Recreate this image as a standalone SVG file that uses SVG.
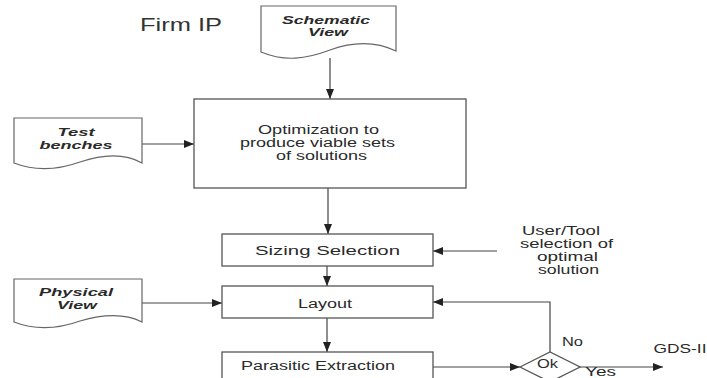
<svg xmlns="http://www.w3.org/2000/svg" width="707" height="378" viewBox="0 0 707 378">
<style>
.box{fill:#fff;stroke:#555;stroke-width:1.3}
.doc{fill:#fff;stroke:#666;stroke-width:1.2}
.t{font-family:"Liberation Sans",Arial,sans-serif;font-size:12px;fill:#2a2a2a;text-anchor:middle}
.bi{font-family:"Liberation Sans",Arial,sans-serif;font-size:11.5px;font-weight:bold;font-style:italic;fill:#2a2a2a;text-anchor:middle}
.c{fill:none;stroke:#444;stroke-width:1.2}
</style>
<defs>
<marker id="ah" viewBox="0 0 10 8" refX="10" refY="4" markerWidth="10" markerHeight="8" markerUnits="userSpaceOnUse" orient="auto">
<path d="M0,0 L10,4 L0,8 Z" fill="#222"/>
</marker>
</defs>
<rect width="707" height="378" fill="#fff"/>
<text x="140" y="31" font-family="'Liberation Sans',Arial,sans-serif" font-size="18" fill="#333" textLength="82" lengthAdjust="spacingAndGlyphs">Firm IP</text>

<g id="connectors">
<line class="c" x1="330" y1="58" x2="330" y2="99" marker-end="url(#ah)"/>
<line class="c" x1="142" y1="144" x2="194" y2="144" marker-end="url(#ah)"/>
<line class="c" x1="328" y1="188" x2="328" y2="234" marker-end="url(#ah)"/>
<line class="c" x1="497" y1="251" x2="433" y2="251" marker-end="url(#ah)"/>
<line class="c" x1="327" y1="266" x2="327" y2="286" marker-end="url(#ah)"/>
<line class="c" x1="142" y1="303" x2="222" y2="303" marker-end="url(#ah)"/>
<line class="c" x1="327" y1="318" x2="327" y2="352" marker-end="url(#ah)"/>
<line class="c" x1="433" y1="367" x2="520" y2="367" marker-end="url(#ah)"/>
<polyline class="c" points="550,352 550,302 433,302" marker-end="url(#ah)"/>
<line class="c" x1="580" y1="367" x2="663" y2="367" marker-end="url(#ah)"/>
</g>

<g id="schematic">
<path class="doc" d="M261,6 H396 V51 C375,41 352,42 330,50 C306,59 285,62 261,52 Z"/>
<text class="bi" x="326" y="24" textLength="88" lengthAdjust="spacingAndGlyphs">Schematic</text>
<text class="bi" x="328" y="36" textLength="40" lengthAdjust="spacingAndGlyphs">View</text>
</g>

<g id="testbenches">
<path class="doc" d="M14,118 H142 V163 C124,153 104,154 80,162 C55,171 32,170 14,163 Z"/>
<text class="bi" x="76" y="136" textLength="37" lengthAdjust="spacingAndGlyphs">Test</text>
<text class="bi" x="76" y="149" textLength="73" lengthAdjust="spacingAndGlyphs">benches</text>
</g>

<g id="physical">
<path class="doc" d="M14,279 H142 V322 C124,313 104,314 80,321 C55,330 32,329 14,322 Z"/>
<text class="bi" x="76" y="296" textLength="74" lengthAdjust="spacingAndGlyphs">Physical</text>
<text class="bi" x="77" y="309" textLength="40" lengthAdjust="spacingAndGlyphs">View</text>
</g>

<g id="optimization">
<rect class="box" x="194" y="99" width="272" height="89"/>
<text class="t" x="318.5" y="134" textLength="121" lengthAdjust="spacingAndGlyphs">Optimization to</text>
<text class="t" x="317.5" y="147" textLength="155" lengthAdjust="spacingAndGlyphs">produce viable sets</text>
<text class="t" x="321.5" y="160" textLength="91" lengthAdjust="spacingAndGlyphs">of solutions</text>
</g>

<g id="sizing">
<rect class="box" x="222" y="234" width="211" height="32"/>
<text class="t" x="327.5" y="255" textLength="145" lengthAdjust="spacingAndGlyphs">Sizing Selection</text>
</g>

<g id="usertool">
<text class="t" x="561" y="235" textLength="78" lengthAdjust="spacingAndGlyphs">User/Tool</text>
<text class="t" x="566.5" y="248" textLength="93" lengthAdjust="spacingAndGlyphs">selection of</text>
<text class="t" x="567.5" y="261" textLength="61" lengthAdjust="spacingAndGlyphs">optimal</text>
<text class="t" x="568.5" y="274" textLength="61" lengthAdjust="spacingAndGlyphs">solution</text>
</g>

<g id="layout">
<rect class="box" x="222" y="286" width="211" height="32"/>
<text class="t" x="325" y="308" textLength="54" lengthAdjust="spacingAndGlyphs">Layout</text>
</g>

<g id="parasitic">
<rect class="box" x="222" y="352" width="211" height="40"/>
<text class="t" x="318" y="370" textLength="154" lengthAdjust="spacingAndGlyphs">Parasitic Extraction</text>
</g>

<g id="ok">
<polygon class="box" points="520,367 550,352 580,367 550,382"/>
<text class="t" x="547.5" y="368" textLength="21" lengthAdjust="spacingAndGlyphs">Ok</text>
<text class="t" x="572.5" y="346" textLength="21" lengthAdjust="spacingAndGlyphs">No</text>
<text class="t" x="600.5" y="376" textLength="31" lengthAdjust="spacingAndGlyphs">Yes</text>
</g>

<g id="gds">
<text class="t" x="680" y="353" textLength="53" lengthAdjust="spacingAndGlyphs">GDS-II</text>
</g>
</svg>
